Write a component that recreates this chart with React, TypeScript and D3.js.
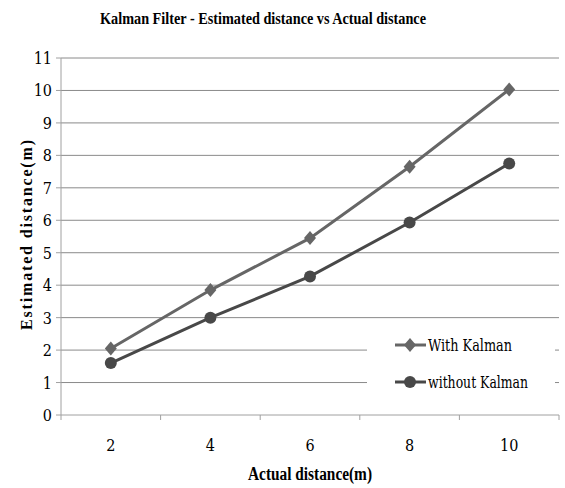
import React from "react";
import * as d3 from "d3";

const categories = ["2", "4", "6", "8", "10"];
const withKalman = [2.05, 3.85, 5.45, 7.65, 10.03];
const withoutKalman = [1.6, 3.0, 4.27, 5.93, 7.75];
const yTicks = [0, 1, 2, 3, 4, 5, 6, 7, 8, 9, 10, 11];

const width = 565;
const height = 488;
const left = 61;
const right = 559;
const top = 58;
const bottom = 415;
const boldFont = "'Liberation Serif', 'Times New Roman', serif";
// regular Liberation Serif isn't around, DejaVu Serif is the nearest serif
const regFont = "'DejaVu Serif', serif";

const x = d3.scaleBand<string>().domain(categories).range([left, right]);
const y = d3.scaleLinear().domain([0, 11]).range([bottom, top]);
const cx = (i: number) => (x(categories[i]) ?? 0) + x.bandwidth() / 2;

const line = d3
  .line<number>()
  .x((_, i) => cx(i))
  .y((d) => y(d));

const diamond = "M0,-7L6,0L0,7L-6,0Z";

const bold = { fontFamily: boldFont, fontWeight: 700 };
const reg = { fontFamily: regFont, fontStretch: "condensed" };

const App = () => {
  const legendX = 395;
  return (
    <svg
      width={width}
      height={height}
      style={{ position: "absolute", left: 0, top: 0, background: "#fff" }}
    >
      <text
        x={263}
        y={24}
        textAnchor="middle"
        style={bold}
        fontSize={17}
        textLength={326}
        lengthAdjust="spacingAndGlyphs"
      >
        Kalman Filter - Estimated distance vs Actual distance
      </text>

      {/* gridlines, broken behind the legend */}
      {yTicks.slice(1).map((t) => {
        const yy = y(t);
        const inLegend = t === 1 || t === 2;
        return (
          <g key={t}>
            <line x1={left} x2={inLegend ? 367 : right} y1={yy} y2={yy} stroke="#8a8a8a" />
            {inLegend && <line x1={555} x2={right} y1={yy} y2={yy} stroke="#8a8a8a" />}
          </g>
        );
      })}

      {/* axes */}
      <line x1={left} x2={left} y1={top} y2={bottom} stroke="#a0a0a0" />
      <line x1={left} x2={right} y1={bottom} y2={bottom} stroke="#a0a0a0" />
      {yTicks.map((t) => (
        <g key={t}>
          <line x1={left - 5} x2={left} y1={y(t)} y2={y(t)} stroke="#a0a0a0" />
          <text x={52} y={y(t) + 6} textAnchor="end" style={reg} fontSize={16}>
            {t}
          </text>
        </g>
      ))}
      {categories.map((c) => (
        <line key={"t" + c} x1={x(c) ?? 0} x2={x(c) ?? 0} y1={bottom} y2={bottom + 5} stroke="#a0a0a0" />
      ))}
      <line x1={right} x2={right} y1={bottom} y2={bottom + 5} stroke="#a0a0a0" />
      {categories.map((c, i) => (
        <text key={c} x={cx(i)} y={451} textAnchor="middle" style={reg} fontSize={16}>
          {c}
        </text>
      ))}

      <text
        x={310}
        y={480}
        textAnchor="middle"
        style={bold}
        fontSize={18}
        textLength={124}
        lengthAdjust="spacingAndGlyphs"
      >
        Actual distance(m)
      </text>
      <text
        transform={`translate(32, 235) rotate(-90)`}
        textAnchor="middle"
        style={bold}
        fontSize={16}
        textLength={190}
        lengthAdjust="spacing"
      >
        Estimated distance(m)
      </text>

      {/* series */}
      <path d={line(withKalman) ?? ""} fill="none" stroke="#666" strokeWidth={3} />
      {withKalman.map((v, i) => (
        <path key={"wk" + i} d={diamond} transform={`translate(${cx(i)}, ${y(v)})`} fill="#666" />
      ))}
      <path d={line(withoutKalman) ?? ""} fill="none" stroke="#484848" strokeWidth={3} />
      {withoutKalman.map((v, i) => (
        <circle key={"wo" + i} cx={cx(i)} cy={y(v)} r={6} fill="#484848" />
      ))}

      {/* legend */}
      <g>
        <line x1={legendX} x2={legendX + 31} y1={345} y2={345} stroke="#666" strokeWidth={3} />
        <path d={diamond} transform={`translate(${legendX + 15}, 345)`} fill="#666" />
        <text x={legendX + 33} y={351} style={reg} fontSize={16} textLength={84} lengthAdjust="spacingAndGlyphs">
          With Kalman
        </text>
        <line x1={legendX} x2={legendX + 31} y1={382} y2={382} stroke="#484848" strokeWidth={3} />
        <circle cx={legendX + 15} cy={382} r={6} fill="#484848" />
        <text x={legendX + 33} y={388} style={reg} fontSize={16} textLength={100} lengthAdjust="spacingAndGlyphs">
          without Kalman
        </text>
      </g>
    </svg>
  );
};

export default App;
